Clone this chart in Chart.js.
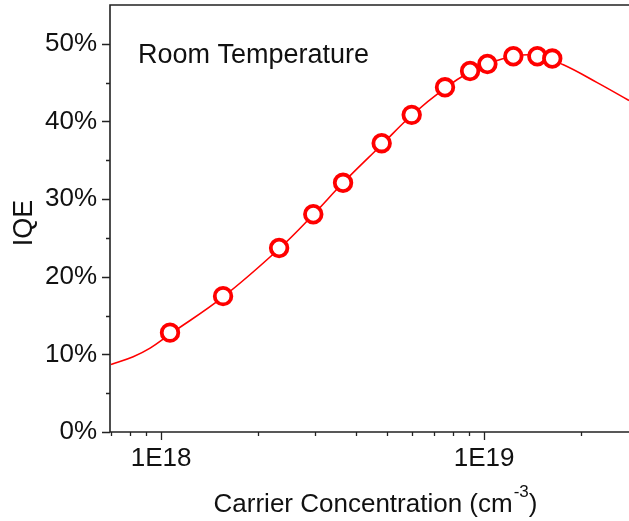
<!DOCTYPE html>
<html>
<head>
<meta charset="utf-8">
<script src="https://cdn.jsdelivr.net/npm/chart.js@4"></script>
<style>
  html, body { margin: 0; padding: 0; background: #fff; }
  canvas { display: block; }
</style>
</head>
<body>
<canvas id="chart" width="629" height="521"></canvas>
<script>
// measured points (carrier concentration in cm^-3, IQE in %)
const carrier = [1.066e18, 1.556e18, 2.32e18, 2.96e18, 3.66e18, 4.82e18, 5.97e18, 7.57e18, 9.05e18, 1.024e19, 1.232e19, 1.462e19, 1.626e19];
const iqe = [12.8, 17.5, 23.7, 28.05, 32.1, 37.2, 40.85, 44.4, 46.5, 47.4, 48.4, 48.4, 48.1];

// fit curve
const fitX = [7.0e17, 8.2e17, 9.25e17, 1.066e18, 1.556e18, 2.32e18, 2.96e18, 3.66e18, 4.82e18, 5.97e18, 7.57e18, 9.05e18, 1.024e19, 1.232e19, 1.46e19, 1.76e19, 2.24e19, 2.81e19];
const fitY = [8.7, 9.7, 10.8, 12.6, 17.4, 23.6, 28.0, 32.1, 37.0, 40.8, 44.3, 46.4, 47.4, 48.4, 48.5, 47.3, 45.0, 42.7];

// axis ticks
const xTicks = [7e17, 8e17, 9e17, 1e18, 2e18, 3e18, 4e18, 5e18, 6e18, 7e18, 8e18, 9e18, 1e19, 2e19];
const xLabels = { 1e18: "1E18", 1e19: "1E19" };
const yTicks = [0, 5, 10, 15, 20, 25, 30, 35, 40, 45, 50];

const FONT = "'Liberation Sans', Arial, sans-serif";
const RED = "#ff0000";
const AXIS = "#222";

const frame = {
  id: "frame",
  afterDraw(chart) {
    const ctx = chart.ctx;
    const { left, right, top, bottom } = chart.chartArea;
    const xs = chart.scales.x, ys = chart.scales.y;
    ctx.save();
    ctx.strokeStyle = AXIS;
    ctx.lineWidth = 1.6;
    ctx.beginPath();
    ctx.moveTo(right + 2, top); ctx.lineTo(left, top);
    ctx.lineTo(left, bottom); ctx.lineTo(right + 2, bottom);
    ctx.stroke();

    ctx.lineWidth = 1.3;
    ctx.beginPath();
    xTicks.forEach(v => {
      const px = Math.round(xs.getPixelForValue(v)) + 0.5;
      const len = xLabels[v] ? 8 : 4;
      ctx.moveTo(px, bottom); ctx.lineTo(px, bottom + len);
    });
    yTicks.forEach(v => {
      const py = Math.round(ys.getPixelForValue(v)) + 0.5;
      const len = v % 10 === 0 ? 8 : 4;
      ctx.moveTo(left, py); ctx.lineTo(left - len, py);
    });
    ctx.stroke();

    // labels
    ctx.fillStyle = "#111";
    ctx.font = "27px " + FONT;
    ctx.textBaseline = "alphabetic";
    ctx.textAlign = "left";
    ctx.fillText("Room Temperature", 138, 63);

    // x title with superscript
    const main = "Carrier Concentration (cm";
    ctx.font = "26px " + FONT;
    const w1 = ctx.measureText(main).width;
    ctx.font = "17px " + FONT;
    const w2 = ctx.measureText("-3").width;
    ctx.font = "26px " + FONT;
    const w3 = ctx.measureText(")").width;
    let x0 = 375 - (w1 + w2 + w3) / 2;
    const base = 512;
    ctx.fillText(main, x0, base);
    ctx.font = "17px " + FONT;
    ctx.fillText("-3", x0 + w1 + 1, base - 15);
    ctx.font = "26px " + FONT;
    ctx.fillText(")", x0 + w1 + w2 + 1, base);

    // y title
    ctx.font = "27px " + FONT;
    ctx.translate(25, 223);
    ctx.rotate(-Math.PI / 2);
    ctx.textAlign = "center";
    ctx.textBaseline = "middle";
    ctx.fillText("IQE", 0, 0);
    ctx.restore();
  }
};

new Chart(document.getElementById("chart"), {
  type: "line",
  data: {
    datasets: [
      {
        label: "data",
        data: carrier.map((c, i) => ({ x: c, y: iqe[i] })),
        showLine: false,
        pointRadius: 8.3,
        pointBorderWidth: 3.8,
        pointBorderColor: RED,
        pointBackgroundColor: "#fff",
        order: 0
      },
      {
        label: "fit",
        data: fitX.map((c, i) => ({ x: c, y: fitY[i] })),
        borderColor: RED,
        borderWidth: 1.6,
        pointRadius: 0,
        tension: 0.4,
        fill: false,
        order: 1
      }
    ]
  },
  options: {
    responsive: false,
    devicePixelRatio: 1,
    animation: false,
    layout: { autoPadding: false, padding: { top: 5, right: 0, left: 0, bottom: 0 } },
    plugins: { legend: { display: false }, tooltip: { enabled: false } },
    scales: {
      x: {
        type: "logarithmic",
        min: 6.95e17,
        max: 2.81e19,
        grid: { display: false },
        border: { display: false },
        afterBuildTicks: (s) => { s.ticks = xTicks.map(v => ({ value: v })); },
        afterFit: (s) => { s.height = 89; s.paddingLeft = 0; s.paddingRight = 0; },
        ticks: {
          autoSkip: false,
          maxRotation: 0,
          padding: 3,
          color: "#111",
          font: { family: FONT, size: 26 },
          callback: (v) => xLabels[v] || ""
        }
      },
      y: {
        min: 0,
        max: 55,
        grid: { display: false },
        border: { display: false },
        afterBuildTicks: (s) => { s.ticks = yTicks.map(v => ({ value: v })); },
        afterFit: (s) => { s.width = 110; s.paddingTop = 0; s.paddingBottom = 0; },
        ticks: {
          padding: 5,
          color: "#111",
          font: { family: FONT, size: 26 },
          callback: (v) => (v % 10 === 0 ? v + "%" : "")
        }
      }
    }
  },
  plugins: [frame]
});
</script>
</body>
</html>
